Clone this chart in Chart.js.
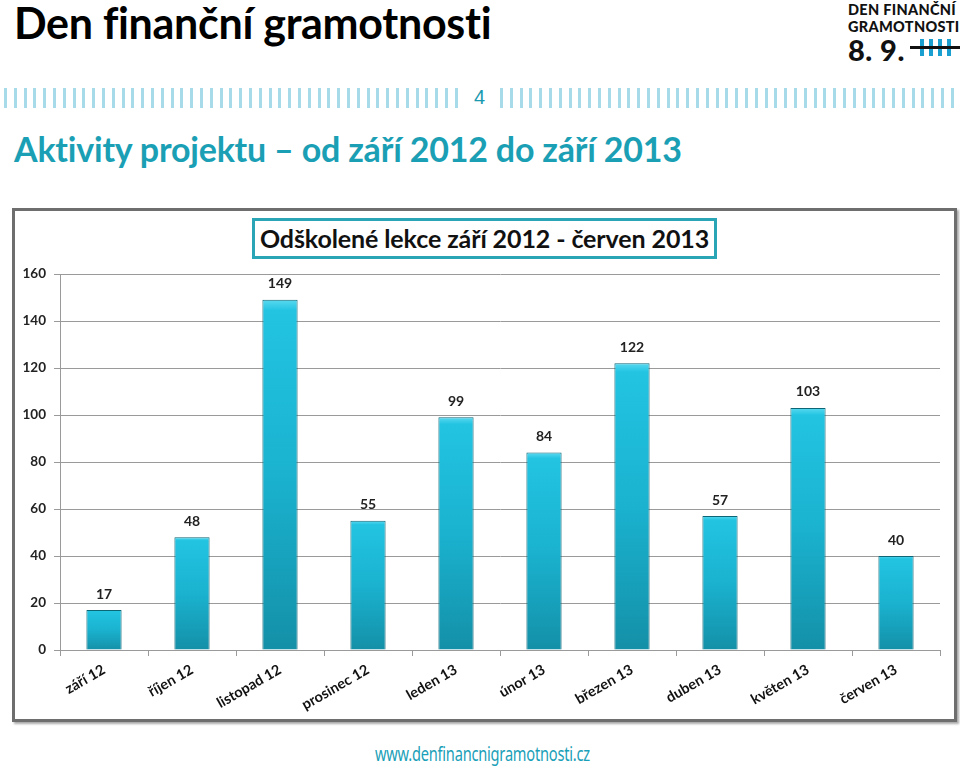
<!DOCTYPE html>
<html>
<head>
<meta charset="utf-8">
<script src="https://cdn.jsdelivr.net/npm/chart.js@4/dist/chart.umd.min.js"></script>
<style>
  html, body { margin:0; padding:0; background:#fff; }
  body { width:960px; height:766px; position:relative; overflow:hidden; font-family: Lato, "Noto Sans", sans-serif; }
  #title { position:absolute; left:14px; top:-3px; font-size:43px; font-weight:bold; color:#000; letter-spacing:-0.3px; }
  #logo { position:absolute; left:848px; top:1px; font-weight:900; color:#111; font-family: Lato, sans-serif; }
  #logo .l1 { font-size:14.5px; line-height:17px; letter-spacing:0.3px; }
  #logo .l2 { font-size:29px; line-height:30px; letter-spacing:0.5px; }
  #tally { position:absolute; left:68px; top:38px; width:40px; height:20px; }
  #tally span { position:absolute; top:0; width:4px; height:17px; background:#1aa0d0; }
  #tally i { position:absolute; left:-6px; top:7px; width:50px; height:3px; background:#111; }
  #stripesL { position:absolute; left:4px; top:88px; width:460px; height:20px;
    background: repeating-linear-gradient(90deg, #a8dbea 0 3px, transparent 3px 9.8px); }
  #stripesR { position:absolute; left:500px; top:88px; width:458px; height:20px;
    background: repeating-linear-gradient(90deg, #a8dbea 0 3px, transparent 3px 9.8px); }
  #pnum { position:absolute; left:474px; top:86px; font-size:20px; color:#1a9ab0; font-family: "Liberation Sans", sans-serif; }
  #subtitle { position:absolute; left:14px; top:128px; font-size:34px; font-weight:bold; color:#1a9fb5; letter-spacing:-0.2px; }
  #box { position:absolute; left:12px; top:208px; width:945px; height:514px; box-sizing:border-box;
    border:3px solid #6e6e6e; box-shadow: 2px 2px 2px #aaa; background:#fff; }
  #box canvas { position:absolute; left:0; top:0; }
  #ctitle { position:absolute; left:252px; top:218px; width:465px; height:41px; box-sizing:border-box;
    border:3px solid #2aa5b5; background:#fff; text-align:center; line-height:34px; font-size:25px; font-weight:bold; color:#111; white-space:nowrap; letter-spacing:-0.1px; }
  #url { position:absolute; left:375px; top:741px; font-size:19px; color:#1aa0b8; font-family: "Noto Sans", sans-serif; letter-spacing:-0.3px; transform-origin:0 0; transform:scaleX(0.77); white-space:nowrap; }
</style>
</head>
<body>
<div id="title">Den finanční gramotnosti</div>
<div id="logo">
  <div class="l1">DEN FINANČNÍ</div>
  <div class="l1">GRAMOTNOSTI</div>
  <div class="l2">8. 9.</div>
  <div id="tally"><span style="left:4px"></span><span style="left:13px"></span><span style="left:22px"></span><span style="left:31px"></span><i></i></div>
</div>
<div id="stripesL"></div>
<div id="pnum">4</div>
<div id="stripesR"></div>
<div id="subtitle">Aktivity projektu – od září 2012 do září 2013</div>
<div id="box"><canvas id="c" width="939" height="508"></canvas></div>
<div id="ctitle">Odškolené lekce září 2012 - červen 2013</div>
<div id="url">www.denfinancnigramotnosti.cz</div>
<script>
const categories = ["září 12","říjen 12","listopad 12","prosinec 12","leden 13","únor 13","březen 13","duben 13","květen 13","červen 13"];
const lessons = [17, 48, 149, 55, 99, 84, 122, 57, 103, 40];
const yMin = 0, yMax = 160, yStep = 20;

const canvas = document.getElementById('c');
canvas.style.width = '939px'; canvas.style.height = '508px';

const valueLabels = {
  id: 'valueLabels',
  afterDatasetsDraw(chart) {
    const ctx = chart.ctx;
    const meta = chart.getDatasetMeta(0);
    ctx.save();
    ctx.font = 'bold 14px Lato, "Noto Sans", sans-serif';
    ctx.fillStyle = '#222';
    ctx.textAlign = 'center';
    ctx.textBaseline = 'middle';
    meta.data.forEach((bar, i) => {
      ctx.fillText(String(chart.data.datasets[0].data[i]), bar.x, bar.y - 16);
    });
    ctx.restore();
  }
};

function barFill(context) {
  const chart = context.chart;
  const ys = chart.scales.y;
  if (!ys || !chart.chartArea) return '#18aac6';
  const v = context.raw;
  const top = ys.getPixelForValue(v);
  const bottom = ys.getPixelForValue(0);
  if (!isFinite(top) || !isFinite(bottom) || bottom - top < 1) return '#18aac6';
  const g = chart.ctx.createLinearGradient(0, top, 0, bottom);
  g.addColorStop(0, '#5ad9f0');
  g.addColorStop(0.03, '#22c4e2');
  g.addColorStop(0.5, '#1ab2cf');
  g.addColorStop(1, '#1490a8');
  return g;
}

new Chart(canvas, {
  type: 'bar',
  data: {
    labels: categories,
    datasets: [{
      data: lessons,
      backgroundColor: barFill,
      borderColor: '#0d6675',
      borderWidth: 1,
      barPercentage: 0.8,
      categoryPercentage: 0.5
    }]
  },
  options: {
    responsive: false,
    animation: false,
    devicePixelRatio: 1,
    layout: { padding: { top: 63, right: 14, left: 0, bottom: 0 } },
    plugins: { legend: { display: false }, title: { display: false }, tooltip: { enabled: false } },
    scales: {
      y: {
        min: yMin, max: yMax,
        ticks: { stepSize: yStep, color: '#222', font: { family: 'Lato, "Noto Sans", sans-serif', size: 13.5, weight: 'bold' }, padding: 8 },
        grid: { color: '#9a9a9a', lineWidth: 1, tickLength: 6, drawTicks: true },
        border: { display: true, color: '#9a9a9a' },
        afterFit(s) { s.width = 45; }
      },
      x: {
        ticks: { color: '#111', font: { family: 'Lato, "Noto Sans", sans-serif', size: 14.5, weight: 'bold' }, minRotation: 30, maxRotation: 30, padding: 5 },
        grid: { drawOnChartArea: false, drawTicks: true, tickLength: 6, color: '#9a9a9a', offset: true },
        border: { display: true, color: '#9a9a9a' },
        afterFit(s) { s.height = 69; }
      }
    }
  },
  plugins: [valueLabels]
});
</script>
</body>
</html>
